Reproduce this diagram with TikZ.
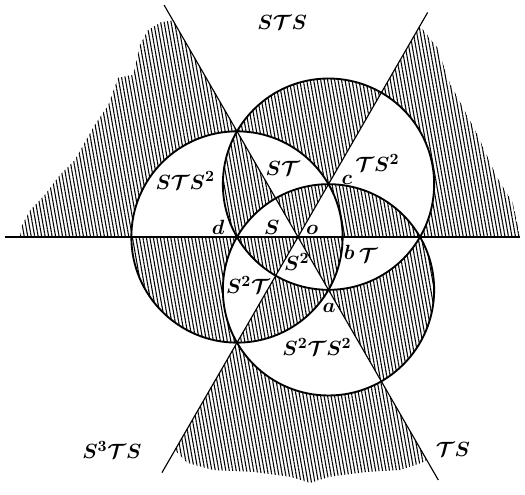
\documentclass[tikz,border=0pt]{standalone}
\usepackage{amsmath}
\usepackage{tikz}
\usetikzlibrary{patterns.meta}

\begin{document}
\begin{tikzpicture}[
        x=1.5cm, y=1.5cm,
        hatch/.style={
            pattern={Lines[angle=100, distance=2.4pt, line width=0.75pt]},
            even odd rule
        },
        ring/.style={
            line width=1.3pt
        },
        ray/.style={
            line width=0.8pt
        },
        lab/.style={
            font=\fontsize{15}{18}\selectfont\boldmath,
            inner sep=0pt
        },
        pt/.style={
            font=\fontsize{14}{16}\selectfont\boldmath,
            inner sep=0pt
        }
    ]
    \useasboundingbox (-4.885,-4.213) rectangle (3.721,3.885);

    % Points
    \coordinate (o) at (0,0);
    \coordinate (d) at (180:1);
    \coordinate (c) at (60:1);
    \coordinate (a) at (300:1);
    \coordinate (h1) at (-4.8,0);
    \coordinate (h2) at (3.64,0);
    \coordinate (u1) at (120:4.39);
    \coordinate (u2) at (300:4.6);
    \coordinate (v1) at (60:4.25);
    \coordinate (v2) at (240:4.46);

    % Hatching
    \begin{scope}
        \clip (-4.56,0) -- (-4.52,0.20) -- (-4.39,0.44) -- (-4.15,0.69) -- (-3.90,1.02)
            -- (-3.66,1.26) -- (-3.33,1.84) -- (-3.11,2.16) -- (-2.95,2.61) -- (-2.70,2.66)
            -- (-2.59,3.15) -- (-2.46,3.39) -- (-2.25,3.52) -- (-2.05,3.55)
            -- (2.0,3.46) -- (2.28,3.11) -- (2.49,2.52) -- (2.93,1.70) -- (3.26,0.98)
            -- (3.52,0.56) -- (3.64,0) -- (2.11,-3.66) -- (2.03,-3.70) -- (1.67,-3.82)
            -- (1.13,-3.85) -- (0.52,-3.93) -- (0.20,-4.03) -- (-0.13,-3.93) -- (-0.74,-3.85)
            -- (-1.39,-3.82) -- (-1.82,-3.70) -- (-2.02,-3.49) -- cycle;
        \fill[hatch] (d) circle (1.732) (c) circle (1.732) (a) circle (1.732)
            \foreach \ang in {0,60,120} {(\ang:10) -- (\ang+60:10) -- (\ang+120:10) -- (\ang+180:10) -- cycle};
    \end{scope}

    % Circles
    \foreach \p in {d,c,a}
        \draw[ring] (\p) circle (1.732);

    % Lines
    \draw[ray] (h1) -- (h2);
    \draw[ray] (u1) -- (u2);
    \draw[ray] (v1) -- (v2);

    % Labels
    \node[lab] (sts) at (-0.26,3.52) {$S\mathcal{T}S$};
    \node[lab] (sts2) at (-1.85,0.93) {$S\mathcal{T}S^2$};
    \node[lab] (st) at (-0.25,1.13) {$S\mathcal{T}$};
    \node[lab] (ts2) at (1.30,1.21) {$\mathcal{T}S^2$};
    \node[lab] (s) at (-0.43,0.15) {$S$};
    \node[lab] (t) at (1.15,-0.30) {$\mathcal{T}$};
    \node[lab] (s2) at (-0.02,-0.41) {$S^2$};
    \node[lab] (s2t) at (-0.82,-0.79) {$S^2\mathcal{T}$};
    \node[lab] (s2ts2) at (0.31,-1.80) {$S^2\mathcal{T}S^2$};
    \node[lab] (s3ts) at (-3.05,-3.49) {$S^3\mathcal{T}S$};
    \node[lab] (tsl) at (2.54,-3.49) {$\mathcal{T}S$};
    \node[pt] (lc) at (0.80,0.93) {$c$};
    \node[pt] (ld) at (-1.31,0.16) {$d$};
    \node[pt] (lo) at (0.23,0.11) {$o$};
    \node[pt] (lb) at (0.84,-0.25) {$b$};
    \node[pt] (la) at (0.51,-1.16) {$a$};

\end{tikzpicture}
\end{document}
